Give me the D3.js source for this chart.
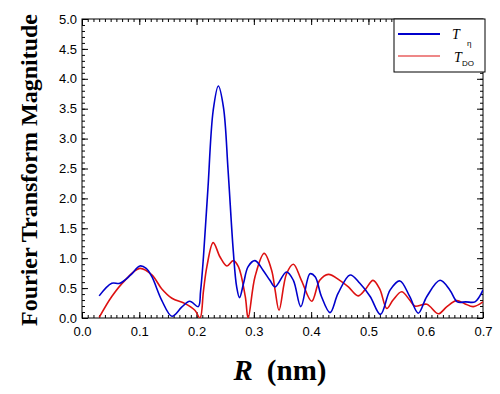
<!DOCTYPE html>
<html>
<head>
<meta charset="utf-8">
<script src="https://cdn.jsdelivr.net/npm/d3@7"></script>
<style>
  body { margin: 0; background: #fff; }
  svg { display: block; }
</style>
</head>
<body>
<svg id="chart"></svg>
<script>
// data
var blueR = [0.030,0.052,0.066,0.085,0.101,0.112,0.122,0.139,0.157,0.174,0.188,0.203,0.207,0.212,0.216,0.220,0.229,0.238,0.247,0.255,0.264,0.270,0.275,0.282,0.290,0.302,0.316,0.328,0.337,0.357,0.369,0.382,0.398,0.407,0.418,0.433,0.447,0.468,0.485,0.503,0.521,0.538,0.555,0.572,0.587,0.602,0.625,0.642,0.655,0.670,0.686,0.700];
var blueMag = [0.37,0.58,0.58,0.72,0.87,0.83,0.69,0.30,0.03,0.18,0.28,0.19,0.45,1.02,1.60,2.19,3.47,3.88,3.52,2.47,1.13,0.52,0.34,0.58,0.86,0.96,0.80,0.63,0.52,0.77,0.63,0.19,0.74,0.69,0.36,0.09,0.41,0.72,0.58,0.36,0.06,0.47,0.62,0.36,0.08,0.36,0.63,0.47,0.27,0.27,0.27,0.47];

var redR = [0.030,0.052,0.075,0.101,0.122,0.139,0.157,0.180,0.197,0.206,0.212,0.218,0.229,0.241,0.253,0.264,0.273,0.285,0.290,0.302,0.318,0.331,0.337,0.344,0.357,0.369,0.383,0.401,0.415,0.430,0.450,0.465,0.482,0.494,0.508,0.520,0.532,0.543,0.558,0.572,0.581,0.602,0.622,0.637,0.654,0.668,0.683,0.700];
var redMag = [0.01,0.36,0.63,0.83,0.72,0.49,0.33,0.24,0.13,0.00,0.45,0.86,1.26,1.02,0.87,0.96,0.86,0.36,0.00,0.69,1.08,0.80,0.47,0.13,0.74,0.90,0.63,0.28,0.63,0.73,0.63,0.52,0.37,0.47,0.63,0.48,0.16,0.30,0.44,0.30,0.20,0.23,0.07,0.19,0.29,0.24,0.19,0.27];

var xTicks = [0.0,0.1,0.2,0.3,0.4,0.5,0.6,0.7];
var yTicks = [0.0,0.5,1.0,1.5,2.0,2.5,3.0,3.5,4.0,4.5,5.0];

function init(){
    var W = 500, H = 394;
    var left = 82, right = 483, top = 19, bottom = 318;

    var svg = d3.select("#chart").attr("width", W).attr("height", H);

    var x = d3.scaleLinear().domain([0, 0.7]).range([left, right]);
    var y = d3.scaleLinear().domain([0, 5]).range([bottom, top]);

    // minor tick values
    var xMinor = d3.range(0, 71).map(function(i){ return i / 100; });
    var yMinor = d3.range(0, 51).map(function(i){ return i / 10; });

    // ticks pointing inwards on all four sides
    function tickAxis(gen, pos, vals, size, fmt){
        var g = svg.append("g").attr("transform", pos)
            .call(gen.tickValues(vals).tickSizeInner(-size).tickSizeOuter(0).tickPadding(7)
                .tickFormat(fmt || ""));
        g.select(".domain").remove();
        g.selectAll("line").attr("stroke", "#000").attr("stroke-width", 1);
        return g;
    }
    tickAxis(d3.axisBottom(x), "translate(0," + bottom + ")", xMinor, 3);
    tickAxis(d3.axisTop(x), "translate(0," + top + ")", xMinor, 3);
    tickAxis(d3.axisLeft(y), "translate(" + left + ",0)", yMinor, 3);
    tickAxis(d3.axisRight(y), "translate(" + right + ",0)", yMinor, 3);

    var xb = tickAxis(d3.axisBottom(x), "translate(0," + bottom + ")", xTicks, 6, d3.format(".1f"));
    tickAxis(d3.axisTop(x), "translate(0," + top + ")", xTicks, 6);
    var yl = tickAxis(d3.axisLeft(y), "translate(" + left + ",0)", yTicks, 6, d3.format(".1f"));
    tickAxis(d3.axisRight(y), "translate(" + right + ",0)", yTicks, 6);

    xb.selectAll("text").attr("font-family", "Liberation Sans, Arial, sans-serif")
        .attr("font-size", 13).attr("fill", "#000").attr("dy", "0.85em");
    yl.selectAll("text").attr("font-family", "Liberation Sans, Arial, sans-serif")
        .attr("font-size", 13).attr("fill", "#000").attr("x", -5);

    // frame
    svg.append("rect")
        .attr("x", left).attr("y", top)
        .attr("width", right - left).attr("height", bottom - top)
        .attr("fill", "none").attr("stroke", "#000").attr("stroke-width", 1);

    // clip for curves
    svg.append("clipPath").attr("id", "plotclip")
        .append("rect").attr("x", left).attr("y", top)
        .attr("width", right - left).attr("height", bottom - top);

    var line = d3.line()
        .x(function(d){ return x(d[0]); })
        .y(function(d){ return y(d[1]); })
        .curve(d3.curveCatmullRom.alpha(0.5));

    var blue = d3.zip(blueR, blueMag);
    var red = d3.zip(redR, redMag);

    svg.append("path").datum(red)
        .attr("clip-path", "url(#plotclip)")
        .attr("d", line).attr("fill", "none")
        .attr("stroke", "#dd1111").attr("stroke-width", 1.6);

    svg.append("path").datum(blue)
        .attr("clip-path", "url(#plotclip)")
        .attr("d", line).attr("fill", "none")
        .attr("stroke", "#0000cc").attr("stroke-width", 1.6);

    // legend
    var lg = svg.append("g");
    lg.append("rect").attr("x", 394).attr("y", 19).attr("width", 91).attr("height", 53)
        .attr("fill", "#fff").attr("stroke", "#000").attr("stroke-width", 1);
    lg.append("line").attr("x1", 398).attr("x2", 440).attr("y1", 34).attr("y2", 34)
        .attr("stroke", "#0000cc").attr("stroke-width", 2);
    lg.append("line").attr("x1", 398).attr("x2", 440).attr("y1", 56).attr("y2", 56)
        .attr("stroke", "#dd1111").attr("stroke-width", 1.2);
    lg.append("text").attr("x", 452).attr("y", 39)
        .attr("font-family", "Liberation Serif, Times New Roman, serif")
        .attr("font-style", "italic").attr("font-size", 14).text("T");
    lg.append("text").attr("x", 467).attr("y", 46)
        .attr("font-family", "Liberation Sans, Arial, sans-serif")
        .attr("font-size", 8).text("η");
    lg.append("text").attr("x", 454).attr("y", 62)
        .attr("font-family", "Liberation Serif, Times New Roman, serif")
        .attr("font-style", "italic").attr("font-size", 14).text("T");
    lg.append("text").attr("x", 462).attr("y", 66)
        .attr("font-family", "Liberation Sans, Arial, sans-serif")
        .attr("font-size", 8).text("DO");

    // axis titles
    svg.append("text")
        .attr("transform", "translate(37,170) rotate(-90)")
        .attr("text-anchor", "middle")
        .attr("font-family", "Liberation Serif, Times New Roman, serif")
        .attr("font-weight", "bold").attr("font-size", 24)
        .text("Fourier Transform Magnitude");

    var xt = svg.append("text")
        .attr("x", 280).attr("y", 380)
        .attr("text-anchor", "middle")
        .attr("font-family", "Liberation Serif, Times New Roman, serif")
        .attr("font-weight", "bold").attr("font-size", 29);
    xt.append("tspan").attr("font-style", "italic").text("R");
    xt.append("tspan").attr("dx", 14).text("(nm)");
}
window.onload = init;
</script>
</body>
</html>
